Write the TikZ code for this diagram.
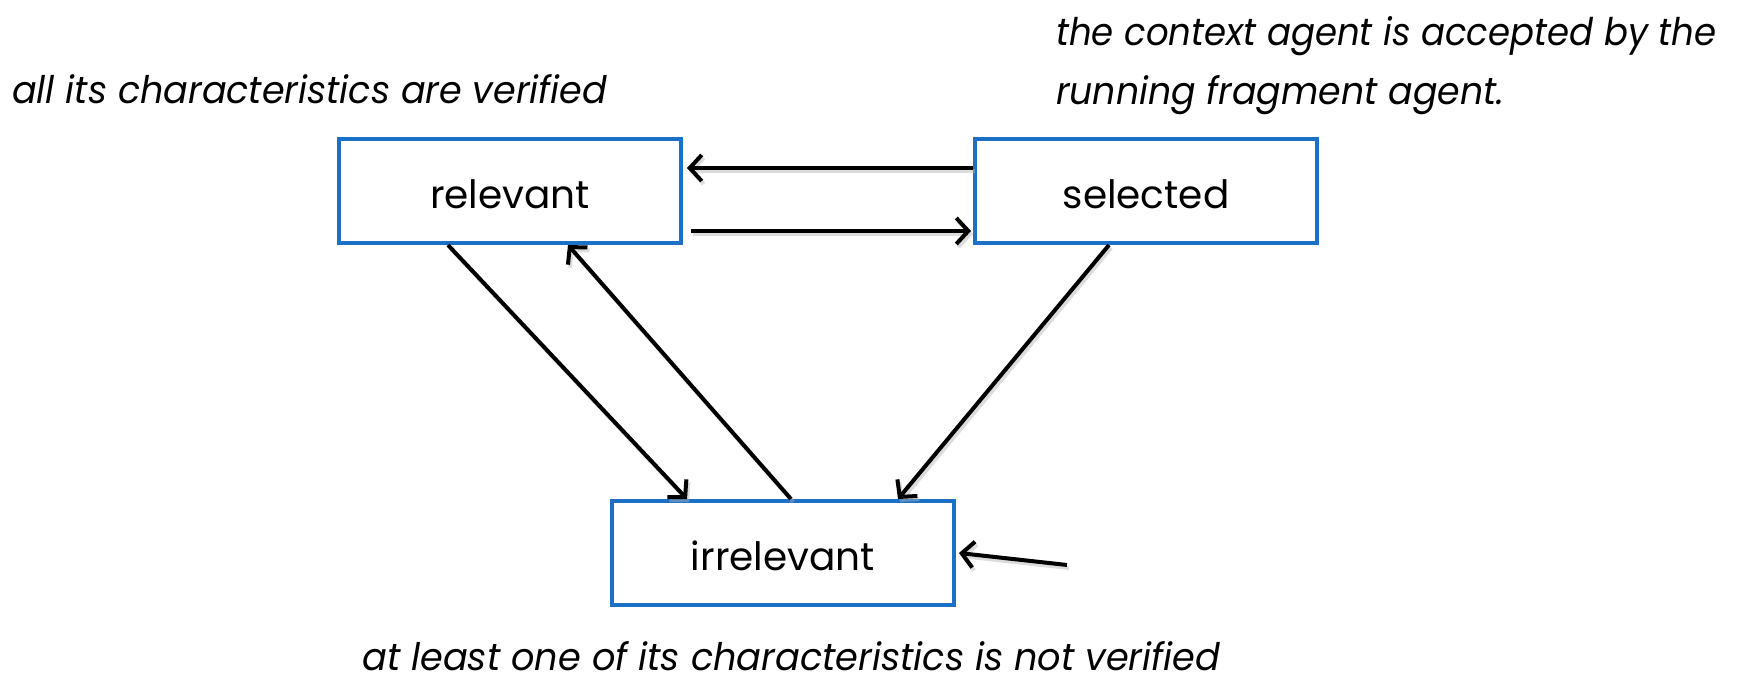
\documentclass[tikz,border=0pt]{standalone}
\usepackage{fontspec}
\setmainfont{Poppins}
\usetikzlibrary{arrows.meta,calc}

\definecolor{boxblue}{RGB}{28,112,200}

\tikzset{
  statebox/.style={draw=boxblue, line width=4pt, fill=white, rectangle,
    minimum width=342pt, minimum height=104pt, inner sep=0pt,
    font=\fontsize{39}{44}\selectfont, text height=34pt, text depth=0pt},
  tip/.style={-{Straight Barb[length=12pt,width=26pt,line width=4pt]}},
  conn/.style={line width=4pt, black, tip,
    preaction={draw=black!30, opacity=0.45, line width=4pt,
      transform canvas={shift={(2pt,-3pt)}}, tip}},
  note/.style={inner sep=0pt, anchor=base west}
}

\begin{document}
\begin{tikzpicture}[x=1pt,y=-1pt]
  \useasboundingbox (0,0) rectangle (1738,681);

  % states
  \node[statebox] (rel) at (510,191) {relevant};
  \node[statebox] (sel) at (1146,191) {selected};
  \node[statebox] (irr) at (783,553) {irrelevant};

  % transitions between relevant and selected
  \draw[conn] ([yshift=-31pt]sel.north west) -- ([xshift=4pt,yshift=-31pt]rel.north east);
  \draw[conn] ([xshift=8pt,yshift=14pt]rel.south east) -- ([xshift=-2pt,yshift=14pt]sel.south west);

  % transitions to and from irrelevant
  \draw[conn] ([xshift=111pt]rel.south west) -- ([xshift=77pt]irr.north west);
  \draw[conn] ([xshift=181pt]irr.north west) -- ([xshift=231pt]rel.south west);
  \draw[conn] ([xshift=136pt]sel.south west) -- ([xshift=288pt]irr.north west);

  % initial entry into irrelevant
  \coordinate (start) at (1067,565);
  \draw[conn] (start) -- ([xshift=3pt]irr.east);

  % condition notes
  \node[note] (n1) at (12,103) {\resizebox{595pt}{29pt}{\itshape all its characteristics are verified}};
  \node[note] (n2) at (1056,45) {\resizebox{660pt}{29pt}{\itshape the context agent is accepted by the}};
  \node[note] (n3) at (1056,104) {\resizebox{448pt}{29pt}{\itshape running fragment agent.}};
  \node[note] (n4) at (362,670) {\resizebox{858pt}{29pt}{\itshape at least one of its characteristics is not verified}};
\end{tikzpicture}
\end{document}
